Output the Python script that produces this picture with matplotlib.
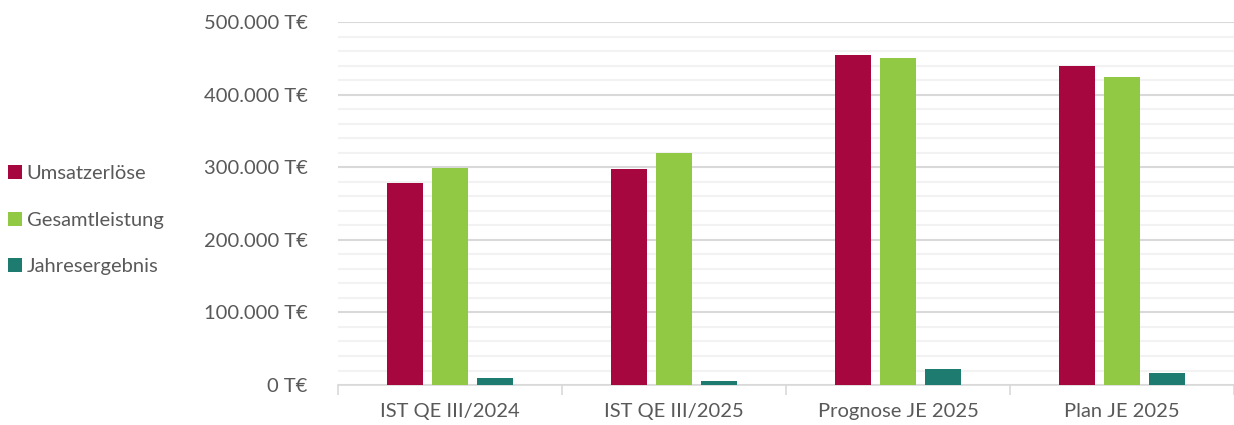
import numpy as np
import matplotlib; matplotlib.use('Agg')
import matplotlib.pyplot as plt
from matplotlib.ticker import FuncFormatter, MultipleLocator

plt.rcParams['font.family'] = ['Lato', 'DejaVu Sans']

categories = ['IST QE III/2024', 'IST QE III/2025', 'Prognose JE 2025', 'Plan JE 2025']
umsatz = [278000, 298000, 455000, 440000]
gesamt = [299000, 320000, 450000, 424000]
jahres = [10000, 5000, 22000, 16500]
series = ['Umsatzerlöse', 'Gesamtleistung', 'Jahresergebnis']
colors = ['#A5073E', '#92C944', '#1E7B6F']

fig = plt.figure(figsize=(12.34, 4.25), dpi=100)
ax = fig.add_axes([0.274, 0.094, 0.726, 0.854])

x = np.arange(len(categories))
w = 0.16
for i, (vals, lab, c) in enumerate(zip([umsatz, gesamt, jahres], series, colors)):
    ax.bar(x + (i - 1) * 0.2, vals, width=w, color=c, label=lab, zorder=3)

ax.set_xlim(-0.5, len(categories) - 0.5)
ax.set_ylim(0, 500000)
ax.yaxis.set_major_locator(MultipleLocator(100000))
ax.yaxis.set_minor_locator(MultipleLocator(20000))
ax.yaxis.set_major_formatter(FuncFormatter(lambda v, p: f'{int(v):,} T€'.replace(',', '.')))
ax.grid(axis='y', which='major', color='#D9D9D9', lw=1.5, zorder=0)
ax.grid(axis='y', which='minor', color='#F2F2F2', lw=1.5, zorder=0)

ax.set_xticks(x)
ax.set_xticklabels(categories)
ax.set_xticks(np.arange(-0.5, len(categories)), minor=True)
ax.tick_params(axis='x', which='major', length=0, pad=13, labelsize=14.5, labelcolor='#595959')
ax.tick_params(axis='x', which='minor', length=7, color='#D9D9D9', width=1.2)
ax.tick_params(axis='y', which='both', length=0, pad=22, labelsize=14.5, labelcolor='#595959')

for s in ['top', 'right', 'left']:
    ax.spines[s].set_visible(False)
ax.spines['bottom'].set_color('#D9D9D9')
ax.spines['bottom'].set_linewidth(1.2)

fig.legend(loc='center left', bbox_to_anchor=(-0.002, 0.482), frameon=False, fontsize=14.5,
           labelcolor='#595959', handlelength=0.7, handleheight=0.7, handletextpad=0.25,
           labelspacing=1.45, borderaxespad=0.1)

fig.savefig('out.png', dpi=100)
